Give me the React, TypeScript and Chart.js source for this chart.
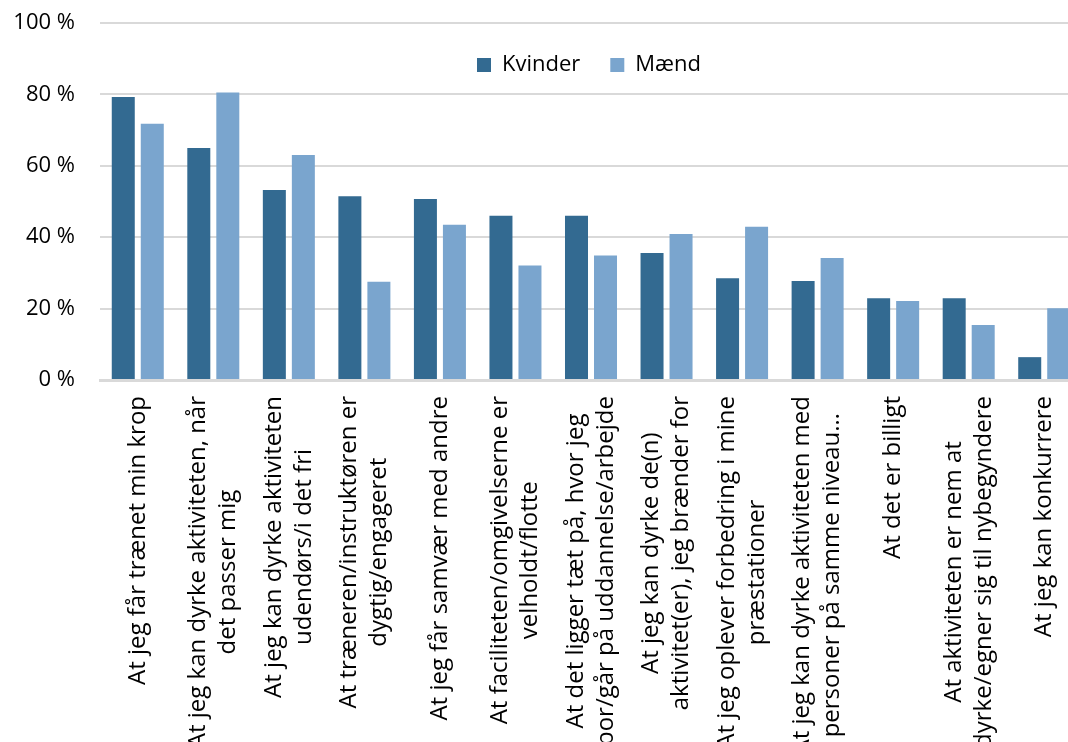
import React, { useEffect, useRef } from 'react';
import { Chart, registerables } from 'chart.js';

Chart.register(...registerables);

const categories: string[][] = [
  ['At jeg får trænet min krop'],
  ['At jeg kan dyrke aktiviteten, når', 'det passer mig'],
  ['At jeg kan dyrke aktiviteten', 'udendørs/i det fri'],
  ['At træneren/instruktøren er', 'dygtig/engageret'],
  ['At jeg får samvær med andre'],
  ['At faciliteten/omgivelserne er', 'velholdt/flotte'],
  ['At det ligger tæt på, hvor jeg', 'bor/går på uddannelse/arbejde'],
  ['At jeg kan dyrke de(n)', 'aktivitet(er), jeg brænder for'],
  ['At jeg oplever forbedring i mine', 'præstationer'],
  ['At jeg kan dyrke aktiviteten med', 'personer på samme niveau…'],
  ['At det er billigt'],
  ['At aktiviteten er nem at', 'dyrke/egner sig til nybegyndere'],
  ['At jeg kan konkurrere'],
];

const seriesNames = ['Kvinder', 'Mænd'];
const kvinder = [79.3, 65.0, 53.2, 51.5, 50.7, 46.0, 46.0, 35.6, 28.5, 27.7, 22.9, 22.9, 6.4];
const maend = [71.8, 80.5, 63.0, 27.5, 43.5, 32.1, 34.9, 40.9, 42.9, 34.2, 22.1, 15.4, 20.1];
const yTickValues = [0, 20, 40, 60, 80, 100];
const seriesColors = ['#336A91', '#7AA5CE'];

const FONT = '"Open Sans", sans-serif';

const rotatedLabels = {
  id: 'rotatedLabels',
  afterDraw(chart: any) {
    const ctx = chart.ctx as CanvasRenderingContext2D;
    const xs = chart.scales.x;
    const labels = chart.data.labels as string[][];
    ctx.save();
    ctx.font = `24px ${FONT}`;
    ctx.fillStyle = '#000';
    ctx.textAlign = 'center';
    ctx.textBaseline = 'middle';
    const lh = 30;
    const top = xs.top + 16;
    labels.forEach((lines, i) => {
      const x = xs.getPixelForTick(i);
      const w = Math.max(...lines.map((l) => ctx.measureText(l).width));
      ctx.save();
      ctx.translate(x, top);
      ctx.rotate(-Math.PI / 2);
      lines.forEach((line, j) => {
        ctx.fillText(line, -w / 2, (j - (lines.length - 1) / 2) * lh);
      });
      ctx.restore();
    });
    ctx.restore();
  },
};

// The legend sits inside the plot area: it takes no layout height,
// and its drawing box is enlarged after layout so it is not clipped.
const legendPlace = {
  id: 'legendPlace',
  afterLayout(chart: any) {
    const lg = chart.legend;
    if (!lg) return;
    lg.top = chart.chartArea.top + 1;
    lg.bottom = lg.top + 70;
    lg.height = 70;
    lg.left -= 2;
    lg.right -= 2;
  },
};

export default function App() {
  const ref = useRef<HTMLCanvasElement | null>(null);

  useEffect(() => {
    document.body.style.margin = '0';
    document.body.style.overflow = 'hidden';
    if (!ref.current) return;
    Chart.defaults.font.family = FONT;
    const chart = new Chart(ref.current, {
      type: 'bar',
      data: {
        labels: categories,
        datasets: [
          {
            label: seriesNames[0],
            data: kvinder,
            backgroundColor: seriesColors[0],
            categoryPercentage: 0.768,
            barPercentage: 0.793,
          },
          {
            label: seriesNames[1],
            data: maend,
            backgroundColor: seriesColors[1],
            categoryPercentage: 0.768,
            barPercentage: 0.793,
          },
        ],
      },
      options: {
        responsive: false,
        animation: false,
        events: [],
        layout: { padding: { top: 22, left: 0, right: 0, bottom: 420 } },
        plugins: {
          tooltip: { enabled: false },
          legend: {
            position: 'top',
            fullSize: false,
            maxHeight: 1,
            labels: {
              color: '#000',
              font: { size: 22, family: FONT },
              boxWidth: 14,
              boxHeight: 14,
              padding: 30,
            },
          },
        },
        scales: {
          x: {
            grid: { display: false, drawTicks: false },
            border: { display: true, color: '#D9D9D9', width: 3 },
            ticks: { display: false },
            afterFit: (s: any) => {
              s.height = 0;
            },
          },
          y: {
            min: 0,
            max: 100,
            afterBuildTicks: (s: any) => {
              s.ticks = yTickValues.map((v) => ({ value: v }));
            },
            grid: { color: '#D9D9D9', lineWidth: 2, drawTicks: true, tickLength: 25, tickColor: 'rgba(0,0,0,0)' },
            border: { display: false },
            ticks: {
              color: '#000',
              font: { size: 22, family: FONT },
              padding: 0,
              callback: (v: any) => `${v} %`,
            },
            afterFit: (s: any) => {
              s.width = 100;
            },
          },
        },
      },
      plugins: [rotatedLabels, legendPlace],
    });
    return () => chart.destroy();
  }, []);

  return (
    <div style={{ width: 1068, height: 742, overflow: 'hidden', position: 'relative', background: '#fff' }}>
      <canvas ref={ref} width={1082} height={800} style={{ width: 1082, height: 800, display: 'block' }} />
    </div>
  );
}
